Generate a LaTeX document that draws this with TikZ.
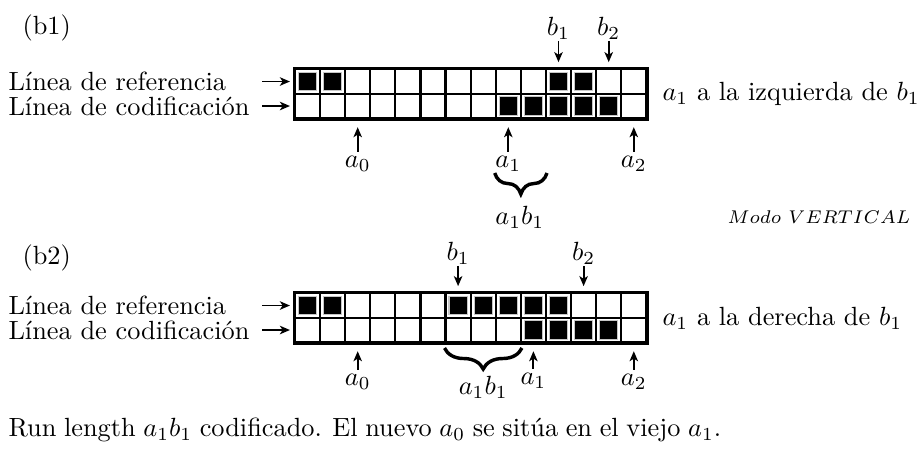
\documentclass[tikz,border=0pt]{standalone}
\usepackage{fontspec}
\usepackage{tikz}
\usetikzlibrary{arrows.meta,positioning,decorations.pathreplacing,calc}

\begin{document}
\begin{tikzpicture}[
    x=0.38pt, y=-0.38pt,
    txt/.style={anchor=west, inner sep=0pt},
    lbl/.style={inner sep=0.5pt},
    cell/.style={draw, line width=0.8pt, minimum width=9.54pt, minimum height=9.31pt, inner sep=0pt},
    pix/.style={fill=black, draw=gray!45, line width=0.4pt, minimum size=6.9pt, inner sep=0pt},
    arrow/.style={-{Stealth[length=3.8pt, width=3.2pt, inset=1pt]}, line width=0.7pt},
    brace/.style={decorate, decoration={brace, mirror, amplitude=8pt}, line width=1.3pt}
]
\useasboundingbox (0,0) rectangle (920,448);

% (b1): a1 a la izquierda de b1
\node[txt] (tb1) at (22,28) {(b1)};
\node[txt] (ref1) at (8,81.5) {Línea de referencia};
\node[txt] (cod1) at (8,106) {Línea de codificación};
\foreach \i in {0,...,13} {
  \node[cell] (r1-\i) at (307.5+25.1*\i,81.5) {};
  \node[cell] (c1-\i) at (307.5+25.1*\i,106) {};
}
\draw[line width=1pt] (r1-0.north west) rectangle (c1-13.south east);
\foreach \i in {0,1,10,11} \node[pix] (pr1-\i) at (r1-\i) {};
\foreach \i in {8,...,12} \node[pix] (pc1-\i) at (c1-\i) {};

\coordinate (sr1) at (262,81.5);
\coordinate (sc1) at (262,106);
\draw[arrow, shorten >=1.5pt] (sr1) -- (r1-0.west);
\draw[arrow, shorten >=1.5pt] (sc1) -- (c1-0.west);

\node[lbl] (b1a) at (r1-10 |- 0,28) {$b_1$};
\node[lbl] (b2a) at (r1-12 |- 0,28) {$b_2$};
\draw[arrow, shorten >=2.3pt] (b1a) -- (r1-10.north);
\draw[arrow, shorten >=2.3pt] (b2a) -- (r1-12.north);

\node[lbl] (a0a) at (c1-2 |- 0,164) {$a_0$};
\node[lbl] (a1a) at (c1-8 |- 0,164) {$a_1$};
\node[lbl] (a2a) at (c1-13 |- 0,164) {$a_2$};
\draw[arrow, shorten >=3pt, shorten <=1pt] (a0a) -- (c1-2.south);
\draw[arrow, shorten >=3pt, shorten <=1pt] (a1a) -- (c1-8.south);
\draw[arrow, shorten >=3pt, shorten <=1pt] (a2a) -- (c1-13.south);

\draw[brace] (c1-8.south west |- 0,173) -- (c1-9.south east |- 0,173);
\node[lbl] (ab1) at (c1-9.south west |- 0,217) {$a_1b_1$};

\node[txt] (izq) at (662,93.75) {$a_1$ a la izquierda de $b_1$};
\node[anchor=east, inner sep=0pt] (modo) at (911,217) {\scriptsize $Modo\ VERTICAL$};

% (b2): a1 a la derecha de b1
\node[txt] (tb2) at (22,258) {(b2)};
\node[txt] (ref2) at (8,305.5) {Línea de referencia};
\node[txt] (cod2) at (8,330) {Línea de codificación};
\foreach \i in {0,...,13} {
  \node[cell] (r2-\i) at (307.5+25.1*\i,305.5) {};
  \node[cell] (c2-\i) at (307.5+25.1*\i,330) {};
}
\draw[line width=1pt] (r2-0.north west) rectangle (c2-13.south east);
\foreach \i in {0,1,6,7,8,9,10} \node[pix] (pr2-\i) at (r2-\i) {};
\foreach \i in {9,...,12} \node[pix] (pc2-\i) at (c2-\i) {};

\coordinate (sr2) at (262,305.5);
\coordinate (sc2) at (262,330);
\draw[arrow, shorten >=1.5pt] (sr2) -- (r2-0.west);
\draw[arrow, shorten >=1.5pt] (sc2) -- (c2-0.west);

\node[lbl] (b1b) at (r2-6 |- 0,253) {$b_1$};
\node[lbl] (b2b) at (r2-11 |- 0,253) {$b_2$};
\draw[arrow, shorten >=2.3pt] (b1b) -- (r2-6.north);
\draw[arrow, shorten >=2.3pt] (b2b) -- (r2-11.north);

\node[lbl] (a0b) at (c2-2 |- 0,382) {$a_0$};
\node[lbl] (a1b) at (c2-9 |- 0,381) {$a_1$};
\node[lbl] (a2b) at (c2-13 |- 0,382) {$a_2$};
\draw[arrow, shorten >=3pt, shorten <=1pt] (a0b) -- (c2-2.south);
\draw[arrow, shorten >=3pt, shorten <=1pt] (a1b) -- (c2-9.south);
\draw[arrow, shorten >=3pt, shorten <=1pt] (a2b) -- (c2-13.south);

\draw[brace] (c2-6.south west |- 0,348) -- (c2-8.south east |- 0,348);
\node[lbl] (ab2) at (c2-7 |- 0,387) {$a_1b_1$};

\node[txt] (der) at (662,318) {$a_1$ a la derecha de $b_1$};

\node[txt] (cap) at (8,430) {\spaceskip=2.9pt Run length $a_1b_1$ codificado. El nuevo $a_0$ se sitúa en el viejo $a_1$.};
\end{tikzpicture}
\end{document}
